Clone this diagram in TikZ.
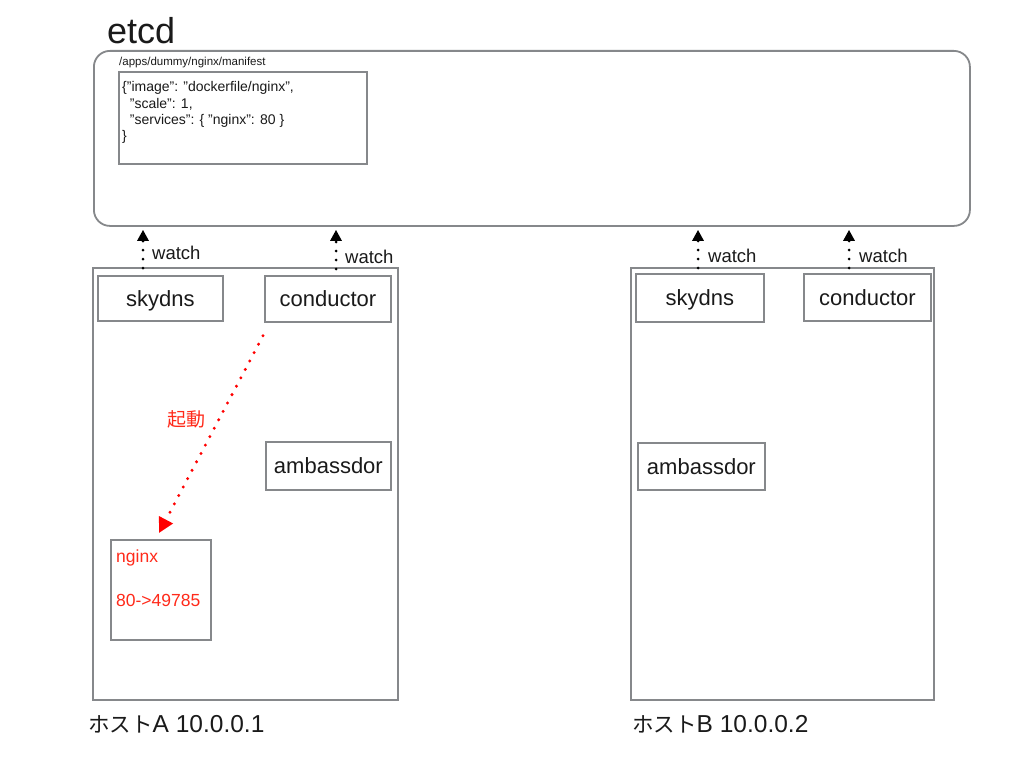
\documentclass[tikz,border=0pt]{standalone}
\usepackage{fontspec}
\setmainfont{Liberation Sans}
\newfontfamily\jpfont{Noto Sans CJK JP}
\usetikzlibrary{arrows.meta,calc}
\definecolor{boxgray}{HTML}{86888B}
\definecolor{txt}{HTML}{1A1A1A}
\definecolor{redtxt}{HTML}{FF2A1A}
\begin{document}
\begin{tikzpicture}[x=1pt,y=-1pt,
  box/.style={draw=boxgray,line width=1.8pt,rectangle,inner sep=0pt,anchor=north west},
  comp/.style={box,font=\fontsize{22}{26}\selectfont,text=txt,text depth=0pt},
  lbl/.style={anchor=base west,inner sep=0pt,text=txt},
  watchlbl/.style={lbl,font=\fontsize{18.5}{22}\selectfont},
  jsonlbl/.style={lbl,font=\fontsize{14}{16}\selectfont},
  redlbl/.style={lbl,text=redtxt,font=\fontsize{17.5}{20}\selectfont},
  hostlbl/.style={lbl,font=\fontsize{24.5}{28}\selectfont},
  watchar/.style={draw=black,line width=3pt,line cap=round,dash pattern=on 0pt off 9pt,
    -{Triangle[width=11pt,length=11pt,line cap=butt]}},
  redar/.style={draw=red,line width=3.3pt,line cap=round,dash pattern=on 0pt off 9.5pt,
    -{Triangle[width=15pt,length=15pt,line cap=butt]}}]
\useasboundingbox[fill=white] (0,0) rectangle (1024,768);

% etcd
\node[box,minimum width=876pt,minimum height=175pt,rounded corners=16pt] (etcd) at (93,50) {};
\node[lbl,font=\fontsize{36}{42}\selectfont] (etcdlbl) at (107,44) {etcd};
\node[lbl,font=\fontsize{11.5}{13}\selectfont] (path) at (119,65) {/apps/dummy/nginx/manifest};
\node[box,minimum width=248pt,minimum height=92pt] (json) at (118,71) {};
\node[jsonlbl] (j1) at (122,91) {\{"image": "dockerfile/nginx",};
\node[jsonlbl] (j2) at (122,108) {\hspace*{0.55em}"scale": 1,};
\node[jsonlbl] (j3) at (122,124.5) {\hspace*{0.55em}"services": \{ "nginx": 80 \}};
\node[jsonlbl] (j4) at (122,140) {\}};

% hosts
\node[box,minimum width=305pt,minimum height=432pt] (hostA) at (92,267) {};
\node[box,minimum width=303pt,minimum height=432pt] (hostB) at (630,267) {};

% host A components
\node[comp,minimum width=125pt,minimum height=45pt] (skyA) at (97,275) {skydns};
\node[comp,minimum width=126pt,minimum height=46pt] (condA) at (264,275) {conductor};
\node[comp,minimum width=125pt,minimum height=48pt] (ambA) at (265,441) {ambassdor};
\node[box,minimum width=100pt,minimum height=100pt] (nginx) at (110,539) {};
\node[redlbl] (nginxlbl) at (116,562) {nginx};
\node[redlbl] (portlbl) at (116,606) {80->49785};

% host B components
\node[comp,minimum width=128pt,minimum height=48pt] (skyB) at (635,273) {skydns};
\node[comp,minimum width=127pt,minimum height=47pt] (condB) at (803,273) {conductor};
\node[comp,minimum width=127pt,minimum height=47pt] (ambB) at (637,442) {ambassdor};

% watch arrows
\coordinate (wA1) at (143,268);
\coordinate (wA2) at (336,269);
\coordinate (wB1) at (698,268);
\coordinate (wB2) at (849,268);
\foreach \w in {wA1,wA2,wB1,wB2}{
  \draw[watchar] (\w) -- ($(\w |- etcd.south)+(0,3)$);
}
\node[watchlbl] (wlA1) at (152,259) {watch};
\node[watchlbl] (wlA2) at (345,263) {watch};
\node[watchlbl] (wlB1) at (708,262) {watch};
\node[watchlbl] (wlB2) at (859,262) {watch};

% start arrow
\draw[redar] ($(condA.south west)+(-1,13)$) -- ($(nginx.north west)+(49,-6)$);
\node[inner sep=0pt,text=redtxt,font=\jpfont\fontsize{19}{21}\selectfont] (kidou) at (186,419) {起動};

% host labels
\node[hostlbl] (hlA) at (88,732) {{\jpfont\fontsize{21.5}{24}\selectfont ホスト}A 10.0.0.1};
\node[hostlbl] (hlB) at (632,732) {{\jpfont\fontsize{21.5}{24}\selectfont ホスト}B 10.0.0.2};
\end{tikzpicture}
\end{document}
